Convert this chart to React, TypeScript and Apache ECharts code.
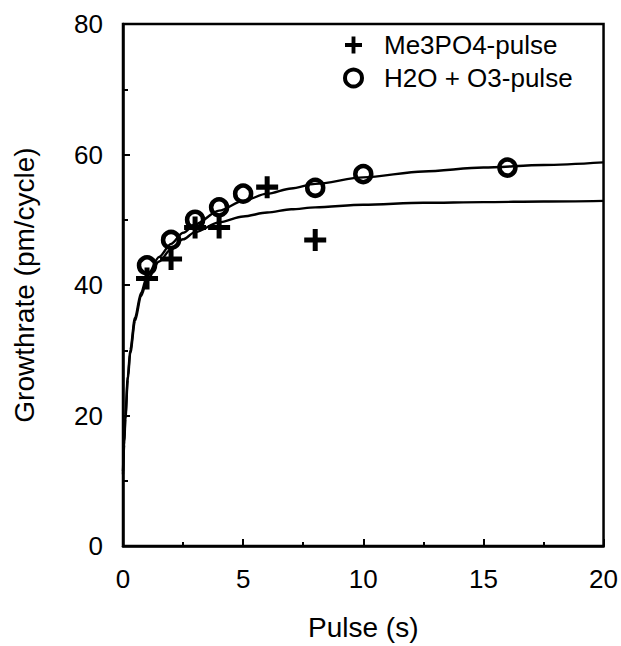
import React, { useEffect, useRef } from "react";
import * as echarts from "echarts";

const xTicks = [0, 5, 10, 15, 20];
const yTicks = [0, 20, 40, 60, 80];

const me3po4X = [1, 2, 3, 4, 6, 8];
const me3po4Y = [41, 44, 48.8, 48.8, 55, 46.9];

const h2oX = [1, 2, 3, 4, 5, 8, 10, 16];
const h2oY = [43, 46.9, 50, 51.9, 54, 54.9, 57, 58];

// fitted curves
const fitX = [0, 0.05, 0.1, 0.2, 0.3, 0.5, 0.75, 1, 1.5, 2, 2.5, 3, 4, 5, 6, 7, 8, 10, 12.5, 15, 17.5, 20];
const fitUpperY = [11.5, 16, 20, 26, 30, 35, 38.8, 41.3, 44.3, 46.3, 48, 49.3, 51.4, 52.9, 54, 54.8, 55.5, 56.5, 57.4, 58, 58.4, 58.8];
const fitLowerY = [11, 15.5, 19.5, 25.5, 29.5, 34.5, 38.3, 40.7, 43.6, 45.5, 47, 48.1, 49.6, 50.5, 51.1, 51.6, 51.9, 52.3, 52.6, 52.7, 52.8, 52.9];

const plusPath = "path://M8.5,0h5v8.5h8.5v5h-8.5v8.5h-5v-8.5h-8.5v-5h8.5z";

export default function App() {
  const ref = useRef<HTMLDivElement>(null);
  useEffect(() => {
    if (!ref.current) return;
    const chart = echarts.init(ref.current, undefined, { renderer: "svg" });
    const font = "Liberation Sans, Arial, Helvetica, sans-serif";
    chart.setOption({
      animation: false,
      textStyle: { fontFamily: font },
      grid: {
        left: 123,
        right: 15,
        top: 24,
        bottom: 93,
        show: true,
        borderColor: "#000",
        borderWidth: 2.5,
        backgroundColor: "transparent",
      },
      legend: {
        orient: "vertical",
        left: 343,
        top: 32,
        itemGap: 7,
        itemWidth: 17,
        itemHeight: 17,
        padding: 0,
        textStyle: { fontSize: 26, color: "#000", fontFamily: font, padding: [0, 0, 0, 17] },
        data: [
          { name: "Me3PO4-pulse", icon: plusPath, itemStyle: { color: "#000", borderWidth: 0, opacity: 1 } },
          { name: "H2O + O3-pulse", icon: "circle", itemStyle: { color: "#fff", borderColor: "#000", borderWidth: 4, opacity: 1 } },
        ],
      },
      xAxis: {
        type: "value",
        min: xTicks[0],
        max: xTicks[xTicks.length - 1],
        interval: 5,
        name: "Pulse (s)",
        nameLocation: "middle",
        nameGap: 67,
        nameTextStyle: { fontSize: 28, color: "#000", fontFamily: font },
        axisLine: { show: true, lineStyle: { color: "#000", width: 2.5 } },
        axisTick: { show: true, inside: true, length: 7, lineStyle: { color: "#000", width: 2 } },
        minorTick: { show: true, splitNumber: 2, length: 4, lineStyle: { color: "#000", width: 2 } },
        axisLabel: { fontSize: 26, color: "#000", margin: 20, fontFamily: font },
        splitLine: { show: false },
      },
      yAxis: {
        type: "value",
        min: yTicks[0],
        max: yTicks[yTicks.length - 1],
        interval: 20,
        name: "Growthrate (pm/cycle)",
        nameLocation: "middle",
        nameGap: 85,
        nameTextStyle: { fontSize: 28, color: "#000", fontFamily: font },
        axisLine: { show: true, lineStyle: { color: "#000", width: 2.5 } },
        axisTick: { show: true, inside: true, length: 7, lineStyle: { color: "#000", width: 2 } },
        minorTick: { show: true, splitNumber: 2, length: 5, lineStyle: { color: "#000", width: 2 } },
        axisLabel: { fontSize: 26, color: "#000", margin: 20, fontFamily: font },
        splitLine: { show: false },
      },
      series: [
        {
          name: "fit-upper",
          type: "line",
          data: fitX.map((x, i) => [x, fitUpperY[i]]),
          showSymbol: false,
          smooth: 0.3,
          smoothMonotone: "x",
          lineStyle: { color: "#000", width: 2.4 },
          silent: true,
          z: 1,
        },
        {
          name: "fit-lower",
          type: "line",
          data: fitX.map((x, i) => [x, fitLowerY[i]]),
          showSymbol: false,
          smooth: 0.3,
          smoothMonotone: "x",
          lineStyle: { color: "#000", width: 2.4 },
          silent: true,
          z: 1,
        },
        {
          name: "Me3PO4-pulse",
          type: "scatter",
          data: me3po4X.map((x, i) => [x, me3po4Y[i]]),
          symbol: plusPath,
          symbolSize: 22,
          itemStyle: { color: "#000", opacity: 1 },
          z: 3,
        },
        {
          name: "H2O + O3-pulse",
          type: "scatter",
          data: h2oX.map((x, i) => [x, h2oY[i]]),
          symbol: "circle",
          symbolSize: 16,
          itemStyle: { color: "rgba(255,255,255,0)", borderColor: "#000", borderWidth: 4.5, opacity: 1 },
          z: 3,
        },
      ],
    });
    return () => chart.dispose();
  }, []);
  return <div ref={ref} style={{ width: 621, height: 646, position: "absolute", left: 0, top: 0 }} />;
}
